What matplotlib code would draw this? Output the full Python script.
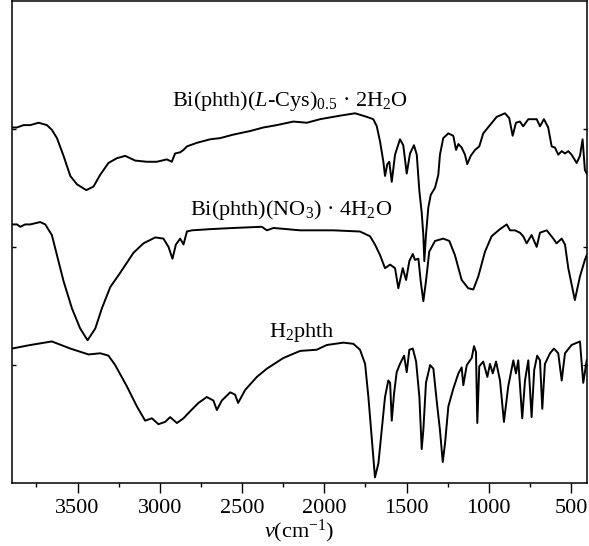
import matplotlib
matplotlib.use("Agg")
from matplotlib import pyplot as plt
from matplotlib.ticker import MultipleLocator

plt.rcParams["font.family"] = ["Liberation Serif", "DejaVu Serif"]
plt.rcParams["mathtext.fontset"] = "custom"
plt.rcParams["mathtext.rm"] = "Liberation Serif"
plt.rcParams["mathtext.it"] = "Liberation Serif:italic"

# Bi(phth)(L-Cys)0.5 . 2H2O
CYS_WN = [3898, 3868, 3828, 3787, 3737, 3686, 3656, 3625, 3585, 3544, 3504, 3447, 3403, 3362,
          3312, 3261, 3210, 3150, 3078, 3018, 2957, 2927, 2907, 2876, 2856, 2835, 2775, 2694,
          2633, 2552, 2451, 2370, 2289, 2188, 2106, 2026, 1904, 1813, 1742, 1702, 1681, 1661,
          1641, 1631, 1617, 1605, 1590, 1570, 1540, 1520, 1499, 1479, 1455, 1438, 1422, 1408,
          1398, 1392, 1382, 1368, 1353, 1327, 1307, 1297, 1277, 1246, 1216, 1199, 1185, 1165,
          1145, 1131, 1110, 1084, 1058, 1034, 993, 952, 902, 876, 855, 835, 811, 791, 760, 709,
          689, 665, 639, 618, 598, 578, 557, 537, 517, 497, 466, 446, 430, 416, 405]
CYS_T = [3.01, 3.01, 3.03, 3.03, 3.05, 3.03, 2.99, 2.92, 2.77, 2.60, 2.53, 2.48, 2.51, 2.61,
         2.71, 2.75, 2.77, 2.73, 2.72, 2.72, 2.74, 2.72, 2.79, 2.80, 2.82, 2.85, 2.88, 2.91,
         2.92, 2.95, 2.98, 3.01, 3.03, 3.06, 3.05, 3.08, 3.11, 3.13, 3.10, 3.08, 3.02, 2.89,
         2.72, 2.60, 2.70, 2.72, 2.55, 2.78, 2.91, 2.86, 2.62, 2.79, 2.86, 2.78, 2.47, 2.29,
         2.10, 1.88, 2.10, 2.33, 2.44, 2.50, 2.61, 2.78, 2.92, 2.96, 2.94, 2.82, 2.87, 2.84,
         2.78, 2.70, 2.77, 2.82, 2.85, 2.96, 3.03, 3.10, 3.13, 3.09, 2.94, 3.05, 3.06, 3.02,
         3.08, 3.08, 3.02, 3.08, 3.01, 2.85, 2.84, 2.78, 2.81, 2.79, 2.81, 2.78, 2.71, 2.77,
         2.91, 2.65, 2.62]

# Bi(phth)(NO3) . 4H2O
NO3_WN = [3898, 3868, 3848, 3818, 3787, 3727, 3696, 3656, 3625, 3585, 3534, 3484, 3439, 3392,
          3352, 3301, 3241, 3160, 3099, 3028, 2978, 2947, 2923, 2902, 2876, 2856, 2835, 2805,
          2694, 2552, 2380, 2349, 2309, 2147, 1945, 1783, 1722, 1692, 1661, 1631, 1600, 1570,
          1550, 1523, 1503, 1483, 1462, 1449, 1428, 1414, 1398, 1382, 1362, 1327, 1277, 1240,
          1206, 1165, 1125, 1094, 1064, 1023, 983, 932, 891, 871, 841, 811, 791, 770, 740, 709,
          689, 648, 608, 588, 557, 537, 517, 477, 446, 416, 405]
NO3_T = [2.19, 2.19, 2.17, 2.19, 2.19, 2.21, 2.19, 2.10, 1.93, 1.71, 1.48, 1.31, 1.21, 1.31,
         1.48, 1.66, 1.78, 1.95, 2.03, 2.08, 2.07, 2.00, 1.90, 2.02, 2.07, 2.02, 2.13, 2.14,
         2.15, 2.16, 2.17, 2.14, 2.16, 2.14, 2.14, 2.13, 2.09, 2.02, 1.93, 1.82, 1.85, 1.82,
         1.65, 1.82, 1.72, 1.88, 1.94, 1.89, 1.90, 1.71, 1.54, 1.71, 1.96, 2.05, 2.07, 2.05,
         1.93, 1.72, 1.65, 1.64, 1.75, 1.96, 2.09, 2.15, 2.19, 2.14, 2.14, 2.12, 2.09, 2.03,
         2.10, 2.00, 2.12, 2.14, 2.07, 2.03, 2.07, 2.02, 1.82, 1.55, 1.75, 1.89, 1.93]

# H2phth
H2_WN = [3898, 3787, 3656, 3544, 3433, 3362, 3312, 3271, 3200, 3139, 3089, 3048, 3008, 2967,
         2937, 2896, 2856, 2815, 2765, 2714, 2674, 2653, 2623, 2572, 2542, 2524, 2481, 2410,
         2349, 2249, 2147, 2046, 1985, 1884, 1823, 1783, 1752, 1732, 1712, 1692, 1671, 1651,
         1631, 1611, 1600, 1590, 1576, 1560, 1540, 1515, 1499, 1483, 1462, 1442, 1422, 1408,
         1398, 1382, 1357, 1337, 1317, 1297, 1280, 1266, 1246, 1216, 1185, 1165, 1155, 1134,
         1104, 1090, 1078, 1070, 1058, 1034, 1009, 993, 976, 956, 932, 908, 882, 851, 835, 821,
         797, 780, 760, 740, 724, 706, 689, 675, 659, 628, 604, 578, 557, 537, 497, 446, 426, 405]
H2_T = [1.14, 1.17, 1.20, 1.14, 1.09, 1.10, 1.08, 1.00, 0.82, 0.65, 0.53, 0.55, 0.50, 0.52,
        0.56, 0.51, 0.55, 0.61, 0.68, 0.73, 0.70, 0.62, 0.70, 0.77, 0.75, 0.68, 0.79, 0.90,
        0.97, 1.06, 1.12, 1.13, 1.17, 1.19, 1.18, 1.13, 1.01, 0.73, 0.39, 0.05, 0.17, 0.45,
        0.73, 0.87, 0.85, 0.53, 0.76, 0.94, 1.01, 1.08, 0.94, 1.13, 1.14, 1.03, 0.73, 0.29,
        0.45, 0.85, 1.00, 0.97, 0.70, 0.45, 0.18, 0.34, 0.65, 0.80, 0.93, 0.98, 0.83, 1.00,
        1.06, 1.16, 1.11, 0.51, 0.99, 1.03, 0.90, 1.01, 0.93, 1.03, 0.87, 0.52, 0.82, 1.04,
        0.93, 1.04, 0.55, 0.87, 1.04, 0.56, 0.96, 1.08, 1.04, 0.63, 1.01, 1.10, 1.14, 1.10,
        0.87, 1.10, 1.17, 1.20, 0.85, 1.04]

LABELS = [
    "Bi(phth)($\\mathit{L}$-Cys)$_{0.5}$ \u00b7 2H$_2$O",
    "Bi(phth)(NO$_3$) \u00b7 4H$_2$O",
    "H$_2$phth",
]
LABEL_X = [2208, 2202, 2135]
LABEL_Y = [3.19, 2.27, 1.24]

fig = plt.figure(figsize=(5.89, 5.46), dpi=100)
ax = fig.add_axes([0.0199, 0.1148, 0.9762, 0.8834])

for wn, t in [(CYS_WN, CYS_T), (NO3_WN, NO3_T), (H2_WN, H2_T)]:
    ax.plot(wn, t, color="black", lw=1.4)

for text, x, y in zip(LABELS, LABEL_X, LABEL_Y):
    ax.text(x, y, text, ha="center", va="baseline", fontsize=16)

ax.set_xlim(3900, 405)
ax.set_ylim(0, 4.08)
ax.xaxis.set_major_locator(MultipleLocator(500))
ax.xaxis.set_minor_locator(MultipleLocator(250))
ax.set_yticks([1, 2, 3])
ax.set_yticklabels([])

ax.tick_params(axis="x", which="major", direction="out", length=7, width=1, labelsize=16, pad=4)
ax.tick_params(axis="x", which="minor", direction="out", length=3, width=1)
ax.tick_params(axis="y", direction="in", length=3, width=1, left=True, right=True)
for spine in ax.spines.values():
    spine.set_linewidth(1.1)

ax.set_xlabel("$v$(cm$^{-1}$)", fontsize=16, labelpad=0)

fig.savefig("out.png", dpi=100)
